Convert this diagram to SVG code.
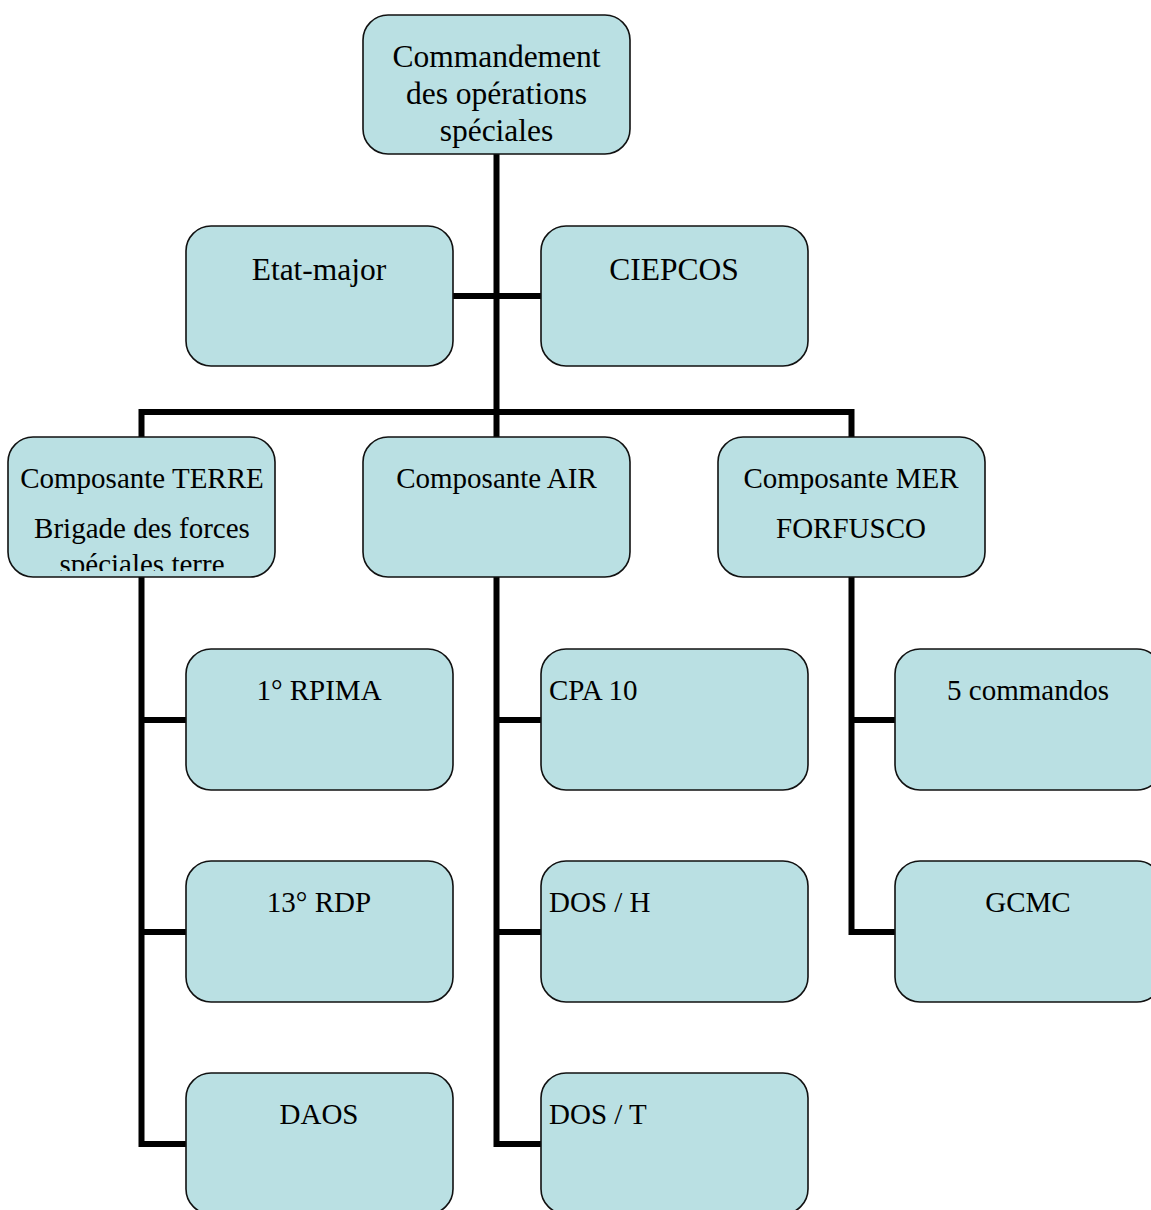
<svg xmlns="http://www.w3.org/2000/svg" width="1151" height="1210" viewBox="0 0 1151 1210">
<style>
.box{fill:#bae0e3;stroke:#111;stroke-width:1.6}
.t{font-family:"Liberation Serif","Times New Roman",serif;font-size:29px;fill:#000}
.tl{font-family:"Liberation Serif","Times New Roman",serif;font-size:31.5px;fill:#000}
.c{text-anchor:middle}
.conn{fill:none;stroke:#000;stroke-width:6;stroke-linecap:butt;stroke-linejoin:miter}
</style>
<defs>
<clipPath id="clipTerre"><rect x="8" y="437" width="267" height="134"/></clipPath>
</defs>
<rect width="1151" height="1210" fill="#fff"/>
<g id="connectors">
<path class="conn" d="M496.5 154 V438"/>
<path class="conn" d="M452 296 H541"/>
<path class="conn" d="M141.5 438 V412 H851.5 V438"/>
<path class="conn" d="M141.5 577 V1144 H186 M141.5 720 H186 M141.5 932 H186"/>
<path class="conn" d="M496.5 577 V1144 H541 M496.5 720 H541 M496.5 932 H541"/>
<path class="conn" d="M851.5 577 V932 H895 M851.5 720 H895"/>
</g>
<g id="node-cos">
<rect class="box" x="363" y="15" width="267" height="139" rx="25"/>
<text class="tl c" x="496.5" y="67">Commandement</text>
<text class="tl c" x="496.5" y="104">des opérations</text>
<text class="tl c" x="496.5" y="141">spéciales</text>
</g>
<g id="node-etat-major">
<rect class="box" x="186" y="226" width="267" height="140" rx="25"/>
<text class="tl c" x="319" y="280">Etat-major</text>
</g>
<g id="node-ciepcos">
<rect class="box" x="541" y="226" width="267" height="140" rx="25"/>
<text class="tl c" x="674" y="280">CIEPCOS</text>
</g>
<g id="node-terre">
<rect class="box" x="8" y="437" width="267" height="140" rx="25"/>
<g clip-path="url(#clipTerre)">
<text class="t c" x="142" y="488">Composante TERRE</text>
<text class="t c" x="142" y="538">Brigade des forces</text>
<text class="t c" x="142" y="574">spéciales terre</text>
</g>
</g>
<g id="node-air">
<rect class="box" x="363" y="437" width="267" height="140" rx="25"/>
<text class="t c" x="496.5" y="488">Composante AIR</text>
</g>
<g id="node-mer">
<rect class="box" x="718" y="437" width="267" height="140" rx="25"/>
<text class="t c" x="851" y="488">Composante MER</text>
<text class="t c" x="851" y="538">FORFUSCO</text>
</g>
<g id="node-rpima">
<rect class="box" x="186" y="649" width="267" height="141" rx="25"/>
<text class="t c" x="319" y="700">1° RPIMA</text>
</g>
<g id="node-rdp">
<rect class="box" x="186" y="861" width="267" height="141" rx="25"/>
<text class="t c" x="319" y="912">13° RDP</text>
</g>
<g id="node-daos">
<rect class="box" x="186" y="1073" width="267" height="141" rx="25"/>
<text class="t c" x="319" y="1124">DAOS</text>
</g>
<g id="node-cpa10">
<rect class="box" x="541" y="649" width="267" height="141" rx="25"/>
<text class="t" x="549" y="700">CPA 10</text>
</g>
<g id="node-dos-h">
<rect class="box" x="541" y="861" width="267" height="141" rx="25"/>
<text class="t" x="549" y="912">DOS / H</text>
</g>
<g id="node-dos-t">
<rect class="box" x="541" y="1073" width="267" height="141" rx="25"/>
<text class="t" x="549" y="1124">DOS / T</text>
</g>
<g id="node-5-commandos">
<rect class="box" x="895" y="649" width="267" height="141" rx="25"/>
<text class="t c" x="1028" y="700">5 commandos</text>
</g>
<g id="node-gcmc">
<rect class="box" x="895" y="861" width="267" height="141" rx="25"/>
<text class="t c" x="1028" y="912">GCMC</text>
</g>
</svg>
